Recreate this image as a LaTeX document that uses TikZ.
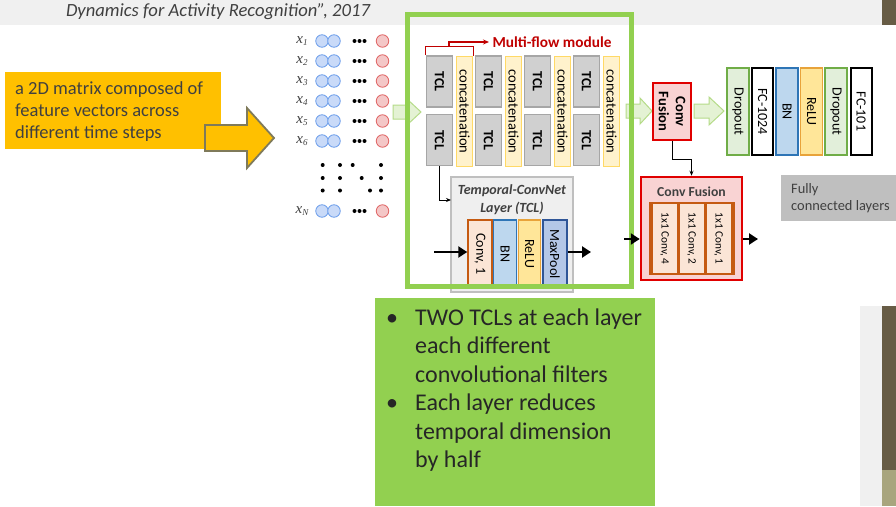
\documentclass[tikz,border=0pt]{standalone}
\usepackage{fontspec}
\setmainfont{Carlito}
\newfontfamily\xserif{Liberation Serif}
\usetikzlibrary{arrows.meta}
\definecolor{olive}{HTML}{675C45}
\definecolor{olivelt}{HTML}{A8A57E}
\definecolor{bandgray}{HTML}{F0F0F0}
\definecolor{txtgray}{HTML}{404040}
\definecolor{orangebox}{HTML}{FFC000}
\definecolor{orangeedge}{HTML}{7F7A5A}
\definecolor{gframe}{HTML}{92D050}
\definecolor{garrowfill}{HTML}{E4F2D4}
\definecolor{garrowdraw}{HTML}{B5DB88}
\definecolor{bluefill}{HTML}{C9DAF8}
\definecolor{bluedraw}{HTML}{6D9EEB}
\definecolor{redfill}{HTML}{F4C7C7}
\definecolor{reddraw}{HTML}{E06666}
\definecolor{tclfill}{HTML}{D0D0D0}
\definecolor{tcldraw}{HTML}{A6A6A6}
\definecolor{catfill}{HTML}{FFF2CC}
\definecolor{catdraw}{HTML}{FFD966}
\definecolor{mfred}{HTML}{C00000}
\definecolor{detfill}{HTML}{EFEFEF}
\definecolor{detdraw}{HTML}{BFBFBF}
\definecolor{convfill}{HTML}{FBE5D6}
\definecolor{convdraw}{HTML}{C55A11}
\definecolor{bnfill}{HTML}{BDD7EE}
\definecolor{bndraw}{HTML}{2E75B6}
\definecolor{relufill}{HTML}{FFE699}
\definecolor{reludraw}{HTML}{E8A33A}
\definecolor{mpfill}{HTML}{B4C7E7}
\definecolor{mpdraw}{HTML}{2F5597}
\definecolor{cffill}{HTML}{F9D3D3}
\definecolor{cfdraw}{HTML}{E00000}
\definecolor{dropfill}{HTML}{E2EFDA}
\definecolor{dropdraw}{HTML}{70AD47}
\definecolor{fcgray}{HTML}{BFBFBF}
\definecolor{bullettext}{HTML}{262626}
\newcommand{\xlabel}[1]{{\xserif\itshape x}\raisebox{-2.5pt}{\fontsize{9}{9}\selectfont\xserif\itshape #1}}
\tikzset{
  tclbox/.style={draw=tcldraw, fill=tclfill, line width=1.6pt, rotate=-90, minimum width=51, minimum height=26, inner sep=0pt, font=\bfseries\fontsize{14}{14}\selectfont},
  catbox/.style={draw=catdraw, fill=catfill, line width=1.2pt, rotate=-90, minimum width=110, minimum height=16, inner sep=0pt, font=\fontsize{14.5}{14.5}\selectfont},
  layer/.style={rotate=-90, inner sep=0pt, line width=1.5pt, font=\fontsize{14}{14}\selectfont},
  bigarrow/.style={line width=2.5pt, -{Triangle[length=9pt,width=11pt]}},
  thinarrow/.style={line width=0.9pt, -{Stealth[length=5pt,width=4pt]}},
  greenarrow/.style={draw=garrowdraw, fill=garrowfill, line width=1pt},
  bluec/.style={circle, draw=bluedraw, fill=bluefill, line width=0.8pt, minimum size=12.5, inner sep=0pt},
  redc/.style={circle, draw=reddraw, fill=redfill, line width=0.8pt, minimum size=12.5, inner sep=0pt},
  dotc/.style={circle, fill=black, minimum size=4, inner sep=0pt},
  xlab/.style={font=\fontsize{15}{15}\selectfont, text=txtgray, inner sep=0pt},
}
\begin{document}
\begin{tikzpicture}[x=1pt,y=-1pt]
\useasboundingbox (0,0) rectangle (896,506);
\fill[white] (0,0) rectangle (896,506);
% slide background decorations
\fill[bandgray] (0,0) rectangle (882,25);
\fill[olive] (882,0) rectangle (896,25);
\fill[bandgray] (860,306) rectangle (882,506);
\fill[olive] (882,306) rectangle (896,470);
\fill[olivelt] (882,470) rectangle (896,506);

% title
\node[font=\itshape\fontsize{18.6}{18.6}\selectfont, text=txtgray] (title) at (218,12) {Dynamics for Activity Recognition”, 2017};

% orange note and arrow
\node[fill=orangebox, minimum width=216, minimum height=77, anchor=north west, inner sep=0pt] (note) at (5,72) {};
\node[anchor=north west, align=left, font=\fontsize{18.5}{22}\selectfont, text=txtgray, inner sep=0pt] (notetext) at (15,81) {a 2D matrix composed of\\feature vectors across\\different time steps};
\draw[draw=orangeedge, fill=orangebox, line width=1.8pt] (205,125) -- (247,125) -- (247,108) -- (274,138) -- (247,168) -- (247,151) -- (205,151) -- cycle;

% input matrix
\foreach \i/\yy in {1/41,2/61,3/81,4/101,5/121,6/141}{
  \node[xlab] (lab\i) at (302,\yy) {\xlabel{\i}};
  \node[bluec] (ba\i) at (322,\yy) {};
  \node[bluec] (bb\i) at (334,\yy) {};
  \node[dotc] at (354.5,\yy) {};
  \node[dotc] at (359.5,\yy) {};
  \node[dotc] at (364.5,\yy) {};
  \node[redc] (rc\i) at (382.5,\yy) {};
}
\node[xlab] (labN) at (302,211) {\xlabel{N}};
\node[bluec] (baN) at (322,211) {};
\node[bluec] (bbN) at (334,211) {};
\node[dotc] at (354.5,211) {};
\node[dotc] at (359.5,211) {};
\node[dotc] at (364.5,211) {};
\node[redc] (rcN) at (382.5,211) {};
\foreach \x/\yy in {322.7/165,340/165,352.7/165,381/165,322.7/178,340/178,361.7/178,381/178,322.7/190.5,340/190.5,370/190.5,381/190.5}{
  \node[dotc] at (\x,\yy) {};
}

% green arrows (behind frame)
\draw[greenarrow] (393,105) -- (407,105) -- (407,99) -- (421,112) -- (407,125) -- (407,119) -- (393,119) -- cycle;
\draw[greenarrow] (626,104) -- (640,104) -- (640,98) -- (652,111) -- (640,124) -- (640,118) -- (626,118) -- cycle;
\draw[greenarrow] (694,104) -- (709,104) -- (709,97) -- (724,111) -- (709,125) -- (709,118) -- (694,118) -- cycle;

% multi-flow module
\foreach \k in {1,...,4}{
  \node[tclbox] (ta\k) at ({439.5+49*(\k-1)},81.5) {TCL};
  \node[tclbox] (tb\k) at ({439.5+49*(\k-1)},140) {TCL};
  \node[catbox] (cc\k) at ({464.5+49*(\k-1)},111.5) {concatenation};
}
\node[font=\bfseries\fontsize{15.3}{15.3}\selectfont, text=mfred, anchor=west] (mf) at (489,42) {Multi-flow module};
\draw[mfred, line width=1.2pt] (ta1.south west) -- ++(0,-9) -| (cc1.north west);
\coordinate (mfstart) at (449,47);
\draw[mfred, line width=1.2pt, -{Stealth[length=6pt,width=5pt]}] (mfstart) |- (mf.west);

% TCL detail
\node[draw=detdraw, fill=detfill, line width=2pt, minimum width=122, minimum height=115, inner sep=0pt] (tcl) at (512,234.5) {};
\node[font=\bfseries\itshape\fontsize{14}{18}\selectfont, text=txtgray, align=center] (tcltitle) at (512,200) {Temporal-ConvNet\\Layer (TCL)};
\node[layer, draw=convdraw, fill=convfill, minimum width=68, minimum height=24] (conv) at (480,254) {Conv, 1};
\node[layer, draw=bndraw, fill=bnfill, minimum width=68, minimum height=23] (bn) at (505,254) {BN};
\node[layer, draw=reludraw, fill=relufill, minimum width=68, minimum height=22] (relu) at (529.5,254) {ReLU};
\node[layer, draw=mpdraw, fill=mpfill, minimum width=68, minimum height=24] (mp) at (555,254) {MaxPool};
\coordinate (tin) at (434,252);
\coordinate (tout) at (591,252);
\draw[bigarrow] (tin) -- (tin -| conv.south);
\draw[bigarrow] (tout -| mp.north) -- (tout);
\coordinate (tclent) at (451,200);
\draw[thinarrow] (tb1.east) -- (tb1.east |- tclent) -- (tclent);

% green frame
\draw[gframe, line width=5pt] (407,14) rectangle (631,286);

% small conv fusion
\node[draw=cfdraw, fill=cffill, line width=2pt, rotate=-90, minimum width=57, minimum height=38, inner sep=0pt, align=center, font=\bfseries\fontsize{14.5}{17}\selectfont] (scf) at (672,111.5) {Conv\\Fusion};

% fully connected layers
\node[layer, draw=dropdraw, fill=dropfill, minimum width=87, minimum height=22] (d1) at (738,111.5) {Dropout};
\node[layer, draw=black, fill=white, line width=2pt, minimum width=87, minimum height=21] (fc1) at (762.5,111.5) {FC-1024};
\node[layer, draw=bndraw, fill=bnfill, minimum width=87, minimum height=22] (bn2) at (787,111.5) {BN};
\node[layer, draw=reludraw, fill=relufill, minimum width=87, minimum height=22] (relu2) at (811.5,111.5) {ReLU};
\node[layer, draw=dropdraw, fill=dropfill, minimum width=87, minimum height=22] (d2) at (836,111.5) {Dropout};
\node[layer, draw=black, fill=white, line width=2pt, minimum width=87, minimum height=21] (fc2) at (861,111.5) {FC-101};

% big conv fusion
\node[draw=cfdraw, fill=cffill, line width=2.5pt, minimum width=101, minimum height=103, inner sep=0pt] (cf) at (691.5,228.5) {};
\node[font=\bfseries\fontsize{13.7}{13.7}\selectfont, text=txtgray] (cftitle) at (691.5,192) {Conv Fusion};
\node[fill=convdraw, minimum width=86, minimum height=73, inner sep=0pt] (cfin) at (691.5,238.5) {};
\node[layer, fill=convfill, minimum width=69, minimum height=24, font=\fontsize{11.2}{11.2}\selectfont] (c4) at (664.5,238.5) {1x1 Conv, 4};
\node[layer, fill=convfill, minimum width=69, minimum height=24, font=\fontsize{11.2}{11.2}\selectfont] (c2) at (691.5,238.5) {1x1 Conv, 2};
\node[layer, fill=convfill, minimum width=69, minimum height=24, font=\fontsize{11.2}{11.2}\selectfont] (c1) at (718.5,238.5) {1x1 Conv, 1};
\draw[thinarrow] (scf.east) -- ++(0,18) -| (cf.north);
\coordinate (fin) at (624,239);
\coordinate (fout) at (758,239);
\draw[bigarrow] (fin) -- (fin -| cf.west);
\draw[bigarrow] (fout -| cf.east) -- (fout);

% fully connected label
\node[fill=fcgray, minimum width=115, minimum height=46, inner sep=0pt, anchor=north west] (fcl) at (781,175) {};
\node[anchor=west, align=left, font=\fontsize{14.4}{17}\selectfont, text=txtgray, inner sep=0pt] (fcltext) at (791,198) {Fully\\connected layers};

% bullet box
\node[fill=gframe, minimum width=280, minimum height=208, inner sep=0pt, anchor=north west] (bul) at (375,298) {};
\node[anchor=north west, inner sep=0pt, text=bullettext, font=\fontsize{24}{28.5}\selectfont] (bultext) at (386,305) {%
\begin{tabular}{@{}p{29pt}@{}l@{}}
\textbullet & TWO TCLs at each layer\\
 & each different\\
 & convolutional filters\\
\textbullet & Each layer reduces\\
 & temporal dimension\\
 & by half
\end{tabular}};
\end{tikzpicture}
\end{document}
